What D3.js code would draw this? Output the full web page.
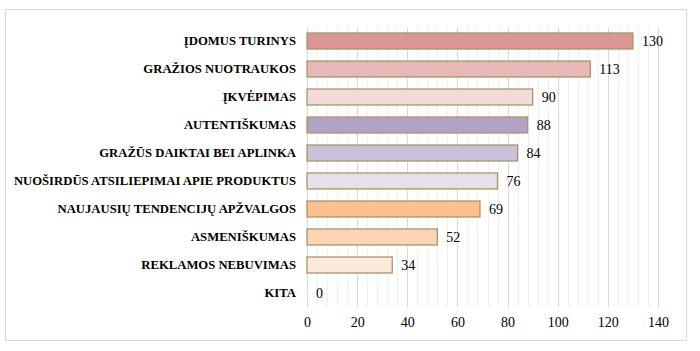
<html>
<head>
  <meta charset="utf-8" />
  <style>
    body { margin: 0; background: #fff; }
  </style>
</head>
<body>
<svg id="chart" width="700" height="351"></svg>
<script src="https://cdn.jsdelivr.net/npm/d3@7"></script>
<script>
// data
const categories = [
  'ĮDOMUS TURINYS',
  'GRAŽIOS NUOTRAUKOS',
  'ĮKVĖPIMAS',
  'AUTENTIŠKUMAS',
  'GRAŽŪS DAIKTAI BEI APLINKA',
  'NUOŠIRDŪS ATSILIEPIMAI APIE PRODUKTUS',
  'NAUJAUSIŲ TENDENCIJŲ APŽVALGOS',
  'ASMENIŠKUMAS',
  'REKLAMOS NEBUVIMAS',
  'KITA'
]
const values = [130, 113, 90, 88, 84, 76, 69, 52, 34, 0]
const barColors = ['#d99694', '#e6b9b8', '#f2dcdb', '#b3a2c7', '#ccc1da',
                   '#e6e0ec', '#fac090', '#fcd5b5', '#fdeada', '#fdeada']
const xTicks = [0, 20, 40, 60, 80, 100, 120, 140]

const serif = "'Liberation Serif', 'Times New Roman', serif"
const svg = d3.select('#chart')

// outer frame
svg.append('rect')
  .attr('x', 5.5).attr('y', 9.5)
  .attr('width', 681).attr('height', 331)
  .attr('fill', '#fff')
  .attr('stroke', '#d9d9d9')

const plotL = 307, plotR = 658, plotT = 27, plotB = 307

const x = d3.scaleLinear().domain([0, 140]).range([plotL, plotR])
const y = d3.scaleBand().domain(categories).range([plotT, plotB]).paddingInner(0.43).paddingOuter(0.215)

// minor gridlines every 4
const minor = d3.range(0, 141, 4).filter(d => d % 20 != 0)
svg.append('g').selectAll('line').data(minor).join('line')
  .attr('x1', d => Math.round(x(d)) + 0.5).attr('x2', d => Math.round(x(d)) + 0.5)
  .attr('y1', plotT).attr('y2', plotB)
  .attr('stroke', '#f0f0f0')

svg.append('g').selectAll('line').data(xTicks).join('line')
  .attr('x1', d => Math.round(x(d)) + 0.5).attr('x2', d => Math.round(x(d)) + 0.5)
  .attr('y1', plotT).attr('y2', plotB)
  .attr('stroke', '#d9d9d9')

// bars
svg.append('g').selectAll('rect').data(values).join('rect')
  .attr('x', x(0))
  .attr('y', (d, i) => y(categories[i]))
  .attr('width', d => x(d) - x(0))
  .attr('height', y.bandwidth())
  .attr('fill', (d, i) => barColors[i])
  .attr('stroke', (d, i) => d > 0 ? '#a89566' : 'none')
  .attr('stroke-width', 1.3)

// value labels
svg.append('g').selectAll('text').data(values).join('text')
  .attr('x', d => x(d) + 9)
  .attr('y', (d, i) => y(categories[i]) + y.bandwidth() / 2)
  .attr('dy', '0.35em')
  .style('font-family', serif)
  .style('font-size', '14px')
  .attr('fill', '#000')
  .text(d => d)

// category labels
svg.append('g').selectAll('text').data(categories).join('text')
  .attr('x', 296)
  .attr('y', d => y(d) + y.bandwidth() / 2)
  .attr('dy', '0.35em')
  .attr('text-anchor', 'end')
  .style('font-family', serif)
  .style('font-size', '12.7px')
  .style('font-weight', 'bold')
  .attr('fill', '#000')
  .text(d => d)

// x axis labels
const xAxis = d3.axisBottom(x).tickValues(xTicks).tickSize(0).tickPadding(10)
const gx = svg.append('g').attr('transform', `translate(0,${plotB})`).call(xAxis)
gx.select('.domain').remove()
gx.selectAll('text')
  .attr('fill', '#000')
  .style('font-family', serif)
  .style('font-size', '14px')
</script>
</body>
</html>
